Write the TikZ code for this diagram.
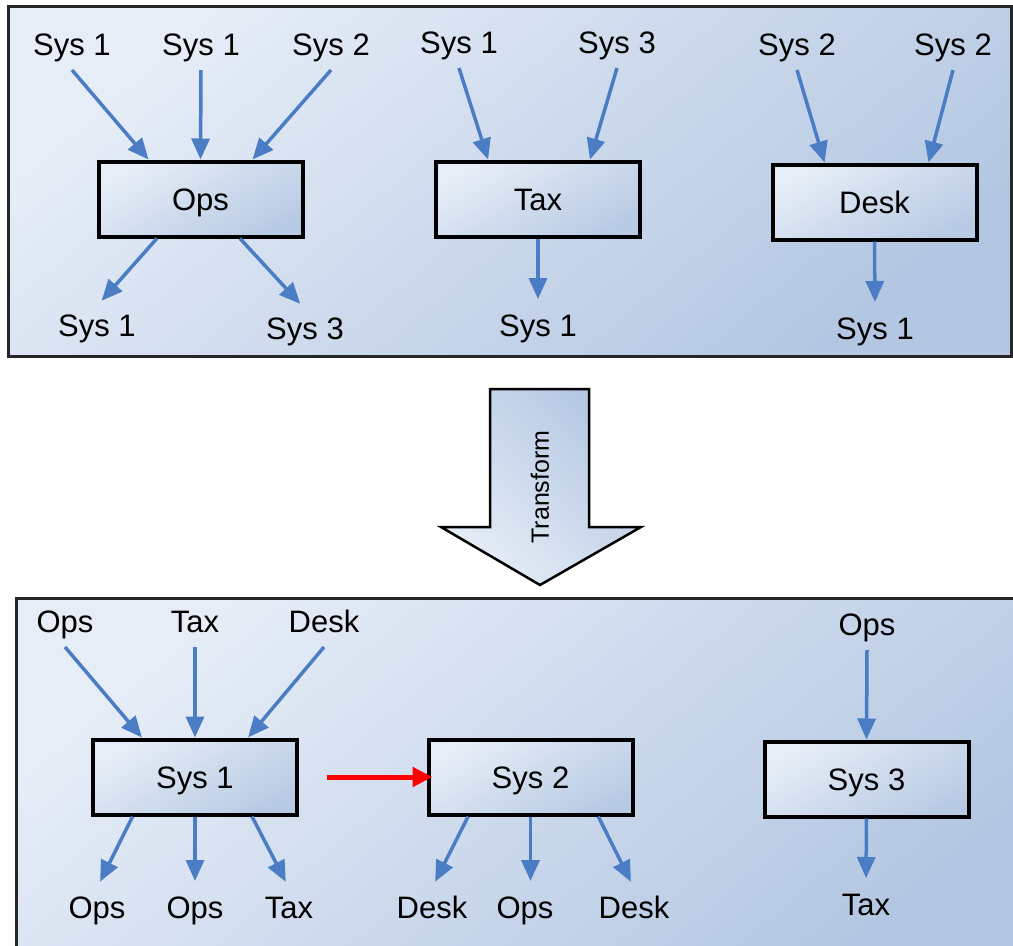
\documentclass[tikz,border=0pt]{standalone}
\usepackage{fontspec}
\setmainfont{Liberation Sans}
\usetikzlibrary{arrows.meta,calc}
\definecolor{paneltop}{HTML}{E6EDF7}
\definecolor{panelbot}{HTML}{B4C7E2}
\definecolor{boxbot}{HTML}{B9CBE4}
\definecolor{flowblue}{HTML}{4A7DC3}
\tikzset{
    panel/.style = {draw=black!85, line width=3pt, top color=paneltop, bottom color=panelbot, shading angle=40},
    sys-box/.style = {draw=black, line width=4pt, top color=paneltop, bottom color=boxbot, shading angle=30, minimum width=204pt, minimum height=75pt, inner sep=0pt, font=\fontsize{31}{37}\selectfont, text height=22pt, text depth=0pt},
    feed/.style = {inner sep=4pt, outer sep=4pt, font=\fontsize{31}{37}\selectfont, text height=22pt, text depth=7pt},
    flow/.style = {draw=flowblue, line width=3.5pt, -{Triangle[length=21pt,width=18pt]}},
    out-flow/.style = {flow, shorten >=7pt},
    hop/.style = {draw=red, line width=5pt, -{Triangle[length=20pt,width=19pt]}},
}

\begin{document}
\begin{tikzpicture}[x=1pt,y=-1pt]
\useasboundingbox (0,0) rectangle (1013,946);

% before
\draw[panel] (8,6) rectangle (1011,356);
\node[sys-box] (ops) at (200.5,199) {Ops};
\node[sys-box] (tax) at (538,199) {Tax};
\node[sys-box] (desk) at (874.5,202) {Desk};

\node[feed] (in-ops-a) at (72,47.5) {Sys 1};
\node[feed] (in-ops-b) at (201,47.5) {Sys 1};
\node[feed] (in-ops-c) at (331,47.5) {Sys 2};
\node[feed] (in-tax-a) at (459,45.5) {Sys 1};
\node[feed] (in-tax-b) at (617,45.5) {Sys 3};
\node[feed] (in-desk-a) at (797,47.5) {Sys 2};
\node[feed] (in-desk-b) at (953,47.5) {Sys 2};

\node[feed] (out-ops-a) at (97,328.5) {Sys 1};
\node[feed] (out-ops-b) at (305,331.5) {Sys 3};
\node[feed] (out-tax) at (538,328.5) {Sys 1};
\node[feed] (out-desk) at (875,331.5) {Sys 1};

\draw[flow] (in-ops-a.south) -- ($(ops.north west)!.25!(ops.north east)$);
\draw[flow] (in-ops-b.south) -- (ops.north);
\draw[flow] (in-ops-c.south) -- ($(ops.north west)!.75!(ops.north east)$);
\draw[flow] (in-tax-a.south) -- ($(tax.north west)!.26!(tax.north east)$);
\draw[flow] (in-tax-b.south) -- ($(tax.north west)!.75!(tax.north east)$);
\draw[flow] (in-desk-a.south) -- ($(desk.north west)!.26!(desk.north east)$);
\draw[flow] (in-desk-b.south) -- ($(desk.north west)!.76!(desk.north east)$);

\draw[out-flow] ($(ops.south west)!.29!(ops.south east)$) -- (out-ops-a.north);
\draw[out-flow] ($(ops.south west)!.69!(ops.south east)$) -- (out-ops-b.north);
\draw[out-flow] (tax.south) -- (out-tax.north);
\draw[out-flow] (desk.south) -- (out-desk.north);

% transform arrow
\draw[line width=2.5pt, top color=panelbot, bottom color=paneltop, shading angle=-45]
  (490,389) -- (589,389) -- (589,527) -- (641,527) -- (540,585) -- (441,527) -- (490,527) -- cycle;
\node[rotate=90, font=\fontsize{25}{30}\selectfont] (transform) at (540,487) {Transform};

% after
\draw[panel] (16,598) rectangle (1030,970);
\node[sys-box] (sys1) at (195,777) {Sys 1};
\node[sys-box] (sys2) at (530.5,777) {Sys 2};
\node[sys-box] (sys3) at (866.5,779) {Sys 3};

\node[feed] (in-sys1-a) at (65,624.5) {Ops};
\node[feed] (in-sys1-b) at (195,624.5) {Tax};
\node[feed] (in-sys1-c) at (324,624.5) {Desk};
\node[feed] (in-sys3) at (867,627.5) {Ops};

\node[feed] (out-sys1-a) at (97,910.5) {Ops};
\node[feed] (out-sys1-b) at (195,910.5) {Ops};
\node[feed] (out-sys1-c) at (289,910.5) {Tax};
\node[feed] (out-sys2-a) at (432,910.5) {Desk};
\node[feed] (out-sys2-b) at (525,910.5) {Ops};
\node[feed] (out-sys2-c) at (634,910.5) {Desk};
\node[feed] (out-sys3) at (866,907.5) {Tax};

\draw[flow] (in-sys1-a.south) -- ($(sys1.north west)!.245!(sys1.north east)$);
\draw[flow] (in-sys1-b.south) -- (sys1.north);
\draw[flow] (in-sys1-c.south) -- ($(sys1.north west)!.755!(sys1.north east)$);
\draw[flow] (in-sys3.south) -- (sys3.north);

\draw[out-flow] ($(sys1.south west)!.2!(sys1.south east)$) -- (out-sys1-a.north);
\draw[out-flow] (sys1.south) -- (out-sys1-b.north);
\draw[out-flow] ($(sys1.south west)!.774!(sys1.south east)$) -- (out-sys1-c.north);
\draw[out-flow] ($(sys2.south west)!.2!(sys2.south east)$) -- (out-sys2-a.north);
\draw[out-flow] (sys2.south) -- (out-sys2-b.north -| sys2.south);
\draw[out-flow] ($(sys2.south west)!.826!(sys2.south east)$) -- (out-sys2-c.north);
\draw[out-flow] (sys3.south) -- (out-sys3.north);

\draw[hop, shorten <=28pt, shorten >=-6pt] (sys1) -- (sys2);
\end{tikzpicture}
\end{document}
